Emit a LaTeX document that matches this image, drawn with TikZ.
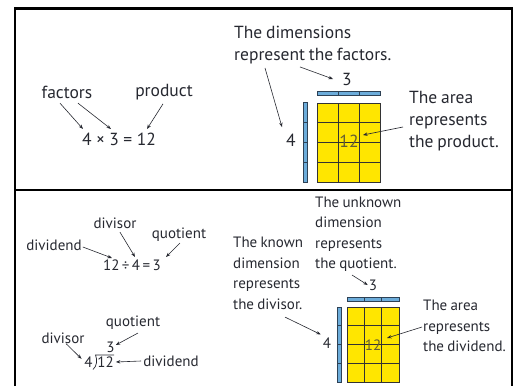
\documentclass[tikz,border=0pt]{standalone}
\usepackage{fontspec}
\setmainfont{PT Sans}[WordSpace=0.8]
\usetikzlibrary{arrows.meta,positioning}
\definecolor{InkGray}{RGB}{38,40,48}
\definecolor{AreaYellow}{RGB}{255,230,0}
\definecolor{BarBlue}{RGB}{108,172,218}
\definecolor{BarEdge}{RGB}{45,65,85}
\definecolor{AreaNum}{RGB}{100,94,50}
\tikzset{
  frameline/.style={line width=2.2pt,draw=black},
  pointer/.style={-{Stealth[length=4.5pt,width=3.4pt]},line width=0.6pt,draw=InkGray},
  bigtext/.style={font=\fontsize{17.5}{22}\selectfont,text=InkGray,inner sep=0pt,align=left},
  smalltext/.style={font=\fontsize{15}{20.5}\selectfont,text=InkGray,inner sep=0pt,align=left},
  cell/.style={draw=black!80,line width=0.7pt,fill=AreaYellow},
  bar/.style={draw=BarEdge,line width=0.6pt,fill=BarBlue}
}
\begin{document}
\begin{tikzpicture}[x=1pt,y=-1pt]
  \useasboundingbox (0,0) rectangle (520,386);
  % frame and divider
  \draw[frameline] (15,386) -- (15,8.5) -- (512,8.5) -- (512,386);
  \draw[frameline] (15,190) -- (512,190);

  % top left: multiplication sentence
  \node[bigtext] (factors) at (67,92) {factors};
  \node[bigtext] (product) at (164,92) {product};
  \node[bigtext] (multeq) at (119,139) {4\hspace{4.5pt}×\hspace{4.5pt}3\hspace{4.5pt}=\hspace{4.5pt}12};
  \coordinate (mfour) at (83,129);
  \coordinate (mthree) at (111,129);
  \coordinate (mtwelve) at (147,129);
  \draw[pointer] ([xshift=-7pt,yshift=-4.7pt]factors.south) -- (mfour);
  \draw[pointer] ([xshift=11pt,yshift=-4.7pt]factors.south) -- (mthree);
  \draw[pointer] ([xshift=-1pt,yshift=-3.8pt]product.south) -- (mtwelve);

  % top right: area model
  \foreach \c in {0,1,2}
    \foreach \r in {0,...,3}
      \draw[cell] ({317+21*\c},{103+19.75*\r}) rectangle ++(21,19.75);
  \foreach \c in {0,1,2}
    \draw[bar] ({317+21*\c},91) rectangle ++(21,4);
  \foreach \r in {0,...,3}
    \draw[bar] (303,{102+20*\r}) rectangle ++(4,20);
  \node[bigtext] (topthree) at (347,79) {3};
  \node[bigtext] (topfour) at (291,140) {4};
  \node[bigtext,text=AreaNum] (toptwelve) at (349,141) {12};
  \node[bigtext,anchor=west] (dims) at (234,45) {The dimensions\\represent the factors.};
  \node[bigtext,anchor=west] (toparea) at (409,121.5) {The area\\represents\\the product.};
  \draw[pointer] ([xshift=31pt,yshift=-3.8pt]dims.south west) -- ([xshift=-9pt,yshift=6.5pt]topfour.north);
  \draw[pointer] ([xshift=66pt,yshift=-2.8pt]dims.south west) -- ([xshift=-9pt]topthree.west);
  \draw[pointer] ([xshift=-6pt,yshift=-5.5pt]toparea.west) -- ([xshift=14pt,yshift=6pt]toptwelve.center);

  % bottom left: division sentences
  \node[smalltext] (dividend) at (54,245) {dividend};
  \node[smalltext] (divisor) at (115,223) {divisor};
  \node[smalltext] (quotient) at (179,235) {quotient};
  \node[smalltext] (diveq) at (132,265) {12\,÷\,4\,=\,3};
  \coordinate (dtwelve) at (112,258);
  \coordinate (dfour) at (135,257);
  \coordinate (dthree) at (166,257);
  \draw[pointer] ([xshift=1pt,yshift=-2pt]dividend.east) -- (dtwelve);
  \draw[pointer] ([xshift=5pt,yshift=-3.6pt]divisor.south) -- (dfour);
  \draw[pointer] ([xshift=1pt,yshift=-1pt]quotient.south) -- (dthree);

  \node[smalltext] (quotienttwo) at (133,323) {quotient};
  \node[smalltext] (divisortwo) at (63,338) {divisor};
  \node[smalltext] (dividendtwo) at (171,361) {dividend};
  \node[smalltext] (lthree) at (110.5,347.5) {3};
  \node[smalltext] (lfour) at (88.5,362) {4};
  \node[smalltext] (ltwelve) at (105.5,362) {12};
  \draw[InkGray,line width=0.7pt] (114,355) -- (95.5,355)
    .. controls (97.5,360) and (97,366) .. (93,369.5);
  \draw[pointer] ([xshift=3pt]divisortwo.south) -- ([xshift=-2.7pt,yshift=-2.3pt]lfour.north west);
  \draw[pointer] ([xshift=5pt,yshift=-3pt]quotienttwo.south) -- ([xshift=1pt,yshift=2.5pt]lthree.east);
  \draw[pointer] ([xshift=-2pt]dividendtwo.west) -- ([xshift=2pt]ltwelve.east);

  % bottom right: area model
  \foreach \c in {0,1,2}
    \foreach \r in {0,...,3}
      \draw[cell] ({347+17.33*\c},{307+18.75*\r}) rectangle ++(17.33,18.75);
  \foreach \c in {0,1,2}
    \draw[bar] ({347+17.33*\c},297) rectangle ++(17.33,4);
  \foreach \r in {0,...,3}
    \draw[bar] (337.5,{307+18.75*\r}) rectangle ++(4,18.75);
  \node[smalltext] (botthree) at (373,285) {3};
  \node[smalltext] (botfour) at (327,343) {4};
  \node[smalltext,text=AreaNum] (bottwelve) at (373,345) {12};
  \node[smalltext,anchor=west] (unknown) at (315,234) {The unknown\\dimension\\represents\\the quotient.};
  \node[smalltext,anchor=west] (known) at (233,273.5) {The known\\dimension\\represents\\the divisor.};
  \node[smalltext,anchor=west] (botarea) at (423,326) {The area\\represents\\the dividend.};
  \draw[pointer] ([xshift=37pt,yshift=-3.3pt]unknown.south west) -- ([xshift=-1pt]botthree.west);
  \draw[pointer] ([xshift=52pt,yshift=-7.3pt]known.south west) -- ([xshift=-2pt,yshift=3pt]botfour.north west);
  \draw[pointer] ([xshift=-1pt,yshift=-1pt]botarea.west) -- ([xshift=14pt,yshift=7pt]bottwelve.center);
\end{tikzpicture}
\end{document}
